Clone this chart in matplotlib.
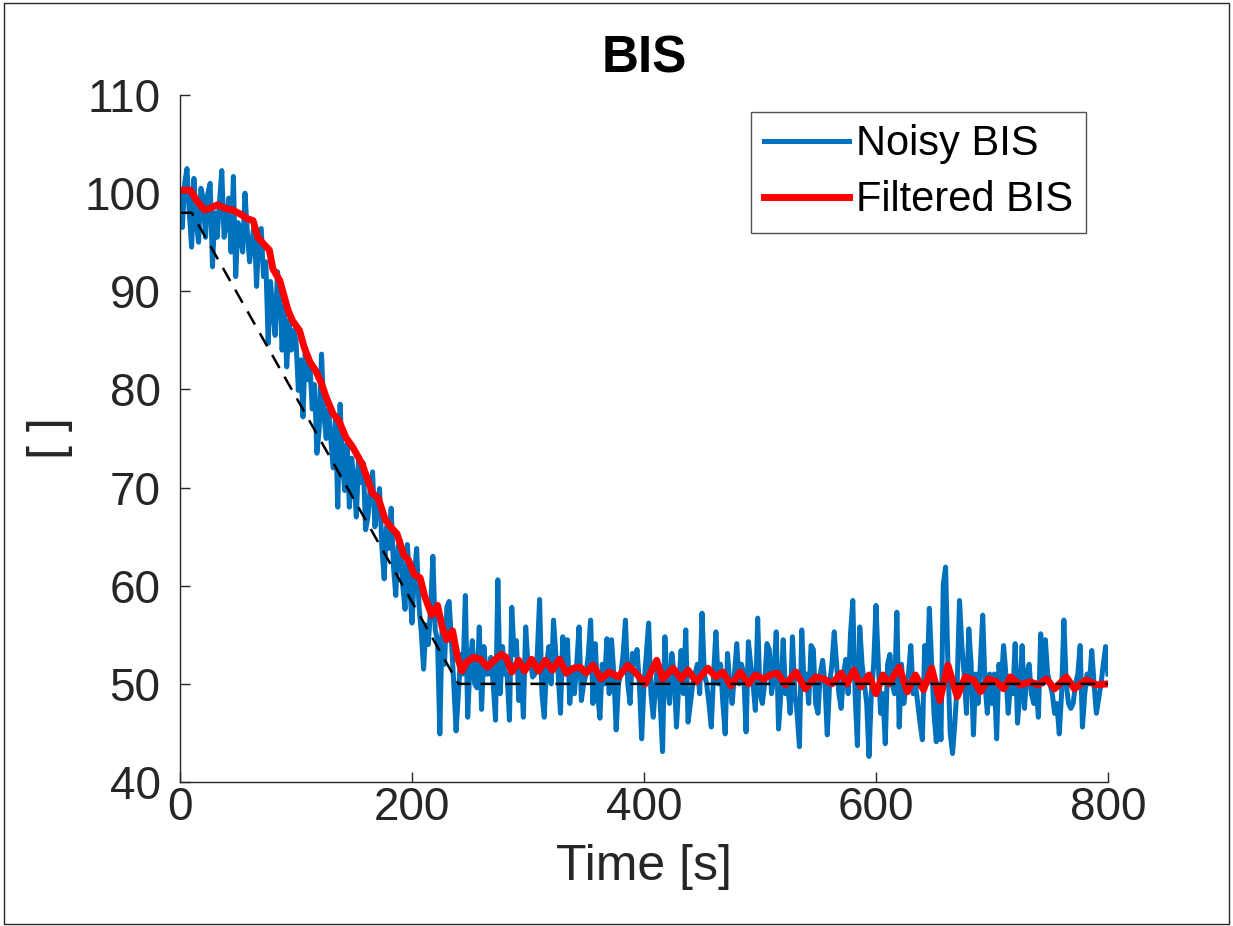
import numpy as np
import matplotlib.pyplot as plt
from matplotlib.patches import Rectangle

time_s = np.arange(0, 801, 2)
noisy_bis = [
    100, 96.5, 101, 102.5, 98,   94.5, 101.5, 97, 95, 100.5,
    99.5, 95.5, 100, 101, 92.5,  98, 95.5, 99, 102.3, 95.5,
    97, 99.5, 94, 101.7, 91.5,   97, 96, 94, 100, 96,
    93, 95, 97, 90.5, 96,        96.4, 91.5, 93, 84.7, 91,
    88, 85.5, 92, 90, 84,        88.5, 82.3, 87, 84, 86,
    85, 79.9, 83, 77.2, 84.3,    81, 82.5, 78, 80.5, 73.5,
    76, 83.6, 77.5, 75, 78,      75, 72, 77, 68, 78.5,
    72.5, 69.7, 74.5, 68, 73,
    71, 67, 73, 70.5, 72.5,      65.7, 67, 70, 71.6, 66,
    68, 69.9, 64, 60.7, 66,      63.8, 67.9, 62, 59, 64,
    64.6, 60, 57.6, 64.2, 60,    56.2, 61, 63.8, 58, 55.2,
    51.5, 56, 54, 57.6, 63,      55.5, 54.4, 44.9, 56.3, 52,
    57.8, 58.4, 54.4, 50, 45.2,  49, 53, 51, 59, 46.6,
    52, 54.4, 50, 49.6, 55.8,    47.4, 53.8, 51, 51, 52.7,
    50, 46.3, 60.6, 49, 53.8,    51, 51, 46.3, 57.8, 53,
    54.4, 48.3, 52, 46.6, 55.8,  52, 52.4, 50.7, 51, 53,
    58.6, 49, 46.6, 52, 53.8,
    50, 56.5, 53, 51, 47,        54.8, 51, 54.5, 48, 51,
    49, 52, 55.8, 48.3, 50,      51, 53, 56.5, 48, 54.1,
    49, 46.5, 52, 50, 54.6,      49, 54.5, 51, 45.3, 50,
    51, 53, 56.5, 50, 48,        53.1, 52, 53.5, 50, 44.4,
    50, 53, 56.2, 49, 46.6,      50, 52, 48, 43.1, 54.8,
    50, 48, 53.1, 51, 45.6,      50, 53.4, 49, 55.5, 46.1,
    48, 50, 51, 52, 49,          57.2, 51, 50, 48, 45.6,
    51, 55.3, 50, 52, 48,        44.9, 53.1, 50, 48, 51,
    54.1, 50, 52, 51, 45.1,      54.3, 52, 50, 47.3, 56.7,
    49, 48, 50, 54.1, 53.5,      49, 51, 55.3, 45.4, 49,
    54.5, 49, 50, 47, 54.8,      49, 47, 43.6, 55.5, 50,
    51, 48, 53.9, 53.5, 48,      47, 51, 52.4, 50, 44.8,
    50, 52, 55.3, 52, 49,        47.5, 51, 52.5, 49, 55,
    58.5, 49, 43.7, 55.8, 52,    50, 48, 42.6, 49, 52,
    58, 52, 47, 49, 43.9,        52, 53, 50, 49, 57.3,
    45.6, 52, 48, 50, 51,        53.9, 49, 50, 48, 46,
    44.3, 53.9, 50, 57.7, 52,    47, 44.1, 49, 44.3, 60.1,
    61.9, 52, 45, 42.9, 46,      50, 58.5, 54, 51, 47,
    55.6, 52, 44.8, 51, 48,      52, 57, 50, 47, 51,
    48, 51, 44.4, 52, 50,        53.9, 51, 47, 50, 49,
    54.1, 46, 49, 53.9, 47.5,    51, 52, 49, 48, 50,
    46.6, 55.1, 50, 54.5, 51,    50, 49, 47, 48, 44.9,
    49, 56.5, 50, 48, 47.5,      48, 50, 51, 53.9, 45.6,
    49, 51, 50, 53.4, 50,        47, 48.5, 50, 52, 53.8,
    51,
]

# Filtered BIS (read at the visible turning points)
filt_t = [0, 9, 14, 21, 25, 32, 40, 45, 53, 58, 63, 67, 73, 77, 80, 86, 90, 93,
          97, 103, 107, 112, 117, 122, 126, 132, 137, 143, 149, 157, 166, 171,
          177, 183, 187, 193, 197, 202, 207, 211, 217, 222, 226, 230, 235, 239,
          243, 247, 253, 259, 265, 271, 277, 281, 286, 292, 297, 303, 309, 315,
          321, 327, 333, 339, 345, 350, 356, 363, 370, 378, 386, 393, 401, 411,
          416, 425, 432, 438, 445, 455, 462, 468, 475, 483, 490, 496, 503, 509,
          515, 522, 531, 539, 548, 555, 562, 570, 575, 581, 587, 594, 600, 606,
          611, 620, 627, 634, 641, 648, 655, 662, 670, 677, 684, 690, 697, 704,
          710, 716, 724, 733, 740, 747, 754, 764, 771, 781, 790, 800]
filt_bis = [100.3, 100.3, 99.3, 98.3, 98.4, 98.8, 98.4, 98.3, 97.8, 97.4, 97.2,
            95.5, 94.7, 94.2, 92.3, 91.1, 89.4, 88.1, 87.0, 86.0, 84.3, 82.8,
            81.9, 80.6, 79.2, 77.5, 76.8, 75.1, 74.1, 72.4, 69.4, 68.9, 66.7,
            65.8, 65.3, 63.1, 62.6, 61.1, 60.8, 58.9, 57.0, 58.0, 55.8, 54.5,
            55.4, 52.8, 51.3, 52.2, 52.7, 52.5, 51.7, 52.4, 53.0, 52.7, 51.2,
            52.4, 51.3, 52.5, 51.3, 52.4, 51.4, 52.5, 51.1, 51.6, 51.7, 51.1,
            51.9, 50.5, 51.2, 50.7, 51.9, 51.1, 50.0, 52.4, 50.5, 51.6, 50.5,
            51.4, 50.2, 51.6, 50.7, 51.2, 49.8, 51.2, 50.0, 50.9, 50.5, 50.9,
            51.1, 49.9, 51.2, 49.5, 50.7, 50.5, 50.0, 51.1, 50.0, 51.4, 49.7,
            50.9, 49.0, 50.9, 50.0, 51.7, 49.2, 50.9, 49.4, 51.6, 48.3, 51.9,
            48.7, 50.7, 50.4, 49.2, 50.5, 50.2, 49.5, 50.7, 49.9, 50.2, 49.9,
            50.5, 49.5, 50.7, 49.5, 50.4, 49.9, 50.0]

# Target (reference) trajectory
target_t = [0, 10, 240, 800]
target_bis = [98, 98, 50, 50]

FONT = 'Liberation Sans'
TXT = '#262626'
plt.rcParams['font.family'] = FONT

fig = plt.figure(figsize=(12.33, 9.26), dpi=100)
ax = fig.add_axes([0.146, 0.1555, 0.7526, 0.7419])

ax.plot(time_s, noisy_bis, color='#0072BD', lw=3.6, label='Noisy BIS')
ax.plot(filt_t, filt_bis, color='#FF0000', lw=5, label='Filtered BIS')
ax.plot(target_t, target_bis, color='k', lw=1.8, dashes=(6, 4))

ax.set_xlim(0, 800)
ax.set_ylim(40, 110)
ax.set_xticks([0, 200, 400, 600, 800])
ax.set_yticks(np.arange(40, 111, 10))

for side in ['top', 'right']:
    ax.spines[side].set_visible(False)
for side in ['left', 'bottom']:
    ax.spines[side].set_color(TXT)
    ax.spines[side].set_linewidth(1.0)

ax.tick_params(direction='in', length=7, width=1, colors=TXT, labelsize=33)
ax.tick_params(axis='y', pad=14)
ax.tick_params(axis='x', pad=3)

ax.set_xlabel('Time [s]', fontsize=36, color=TXT, labelpad=10)
ax.set_ylabel('[ ]', fontsize=36, color=TXT, labelpad=8)
ax.set_title('BIS', fontsize=37, fontweight='bold', color='k', pad=16)

leg = ax.legend(loc='upper right', fontsize=30, frameon=True, fancybox=False,
                edgecolor=TXT, handlelength=2.05, handletextpad=0.17,
                borderpad=0.3, labelspacing=0.38, borderaxespad=0,
                bbox_to_anchor=(0.9763, 0.9753))
leg.get_frame().set_linewidth(1.0)
for txt in leg.get_texts():
    txt.set_color('k')

# thin frame round the whole figure
fig.patches.append(Rectangle((0.003, 0.002), 0.994, 0.995, transform=fig.transFigure,
                             fill=False, edgecolor=TXT, lw=1.0))

fig.savefig('out.png', dpi=100)
